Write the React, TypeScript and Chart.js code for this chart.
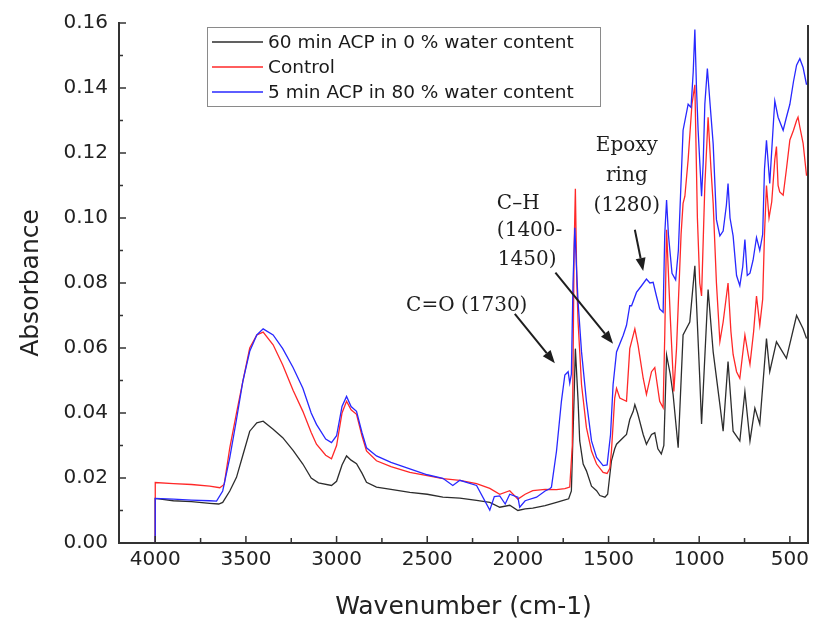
import React, { useEffect, useRef } from "react";
import { Chart, registerables } from "chart.js";

Chart.register(...registerables);

// ---- data: [wavenumber (cm-1), absorbance] ----
const acp60Water0: [number, number][] = [
  [4000, 0], [4000, 0.0137], [3900, 0.013], [3800, 0.0127], [3700, 0.0122], [3650, 0.012], [3628, 0.0125],
  [3589, 0.016], [3552, 0.0202], [3517, 0.027], [3479, 0.0344], [3440, 0.037], [3405, 0.0375], [3350, 0.035],
  [3297, 0.0324], [3240, 0.0285], [3186, 0.0243], [3140, 0.02], [3100, 0.0185], [3028, 0.0177], [3000, 0.019],
  [2970, 0.024], [2945, 0.0268], [2920, 0.0255], [2890, 0.0244], [2860, 0.0215], [2835, 0.0187], [2780, 0.0172],
  [2700, 0.0165], [2596, 0.0156], [2500, 0.015], [2414, 0.0141], [2320, 0.0138], [2228, 0.0131], [2155, 0.0125],
  [2100, 0.011], [2045, 0.0116], [2000, 0.01], [1960, 0.0105], [1918, 0.0107], [1850, 0.0115], [1787, 0.0125],
  [1750, 0.0131], [1720, 0.0136], [1705, 0.016], [1690, 0.045], [1683, 0.0598], [1668, 0.0436], [1659, 0.0314],
  [1640, 0.0243], [1622, 0.0222], [1594, 0.0175], [1566, 0.0161], [1548, 0.0146], [1520, 0.0141], [1505, 0.015],
  [1484, 0.0253], [1466, 0.029], [1456, 0.0304], [1420, 0.0324], [1401, 0.0334], [1383, 0.038], [1364, 0.0405],
  [1355, 0.0426], [1340, 0.04], [1309, 0.0334], [1291, 0.0304], [1282, 0.0314], [1263, 0.0334], [1245, 0.0339],
  [1228, 0.029], [1209, 0.0274], [1195, 0.03], [1180, 0.0578], [1160, 0.052], [1144, 0.0457], [1116, 0.0293],
  [1089, 0.064], [1052, 0.068], [1024, 0.0853], [997, 0.0507], [987, 0.0366], [951, 0.078], [923, 0.0588],
  [886, 0.0426], [868, 0.0344], [841, 0.0558], [813, 0.0344], [776, 0.0314], [748, 0.0466], [720, 0.0314],
  [693, 0.0415], [666, 0.0366], [629, 0.0629], [611, 0.0527], [574, 0.0619], [519, 0.0568], [463, 0.07],
  [427, 0.0659], [408, 0.0629],
];

const control: [number, number][] = [
  [4000, 0], [4000, 0.0186], [3900, 0.0183], [3800, 0.018], [3700, 0.0175], [3644, 0.017], [3620, 0.018],
  [3589, 0.0293], [3552, 0.04], [3517, 0.0497], [3479, 0.06], [3440, 0.064], [3405, 0.0649], [3350, 0.061],
  [3297, 0.0548], [3240, 0.047], [3186, 0.0405], [3140, 0.034], [3111, 0.0304], [3060, 0.027], [3028, 0.0259],
  [3000, 0.03], [2970, 0.04], [2945, 0.0436], [2920, 0.041], [2890, 0.0396], [2860, 0.033], [2835, 0.0283],
  [2780, 0.0253], [2700, 0.0235], [2596, 0.0217], [2500, 0.0207], [2414, 0.0198], [2320, 0.0193], [2228, 0.0183],
  [2155, 0.0168], [2100, 0.015], [2045, 0.0161], [2000, 0.0135], [1960, 0.015], [1918, 0.0161], [1850, 0.0165],
  [1787, 0.0164], [1741, 0.0167], [1714, 0.0172], [1700, 0.03], [1690, 0.09], [1683, 0.109], [1675, 0.08],
  [1668, 0.068], [1649, 0.0487], [1622, 0.0355], [1594, 0.0283], [1566, 0.0243], [1530, 0.0217], [1508, 0.0214],
  [1493, 0.023], [1484, 0.0283], [1466, 0.0446], [1456, 0.0476], [1438, 0.0446], [1401, 0.0436], [1383, 0.0598],
  [1355, 0.0659], [1337, 0.0608], [1309, 0.0507], [1291, 0.0457], [1263, 0.0527], [1245, 0.054], [1218, 0.0436],
  [1199, 0.0416], [1190, 0.0639], [1180, 0.0964], [1160, 0.07], [1140, 0.0466], [1125, 0.06], [1100, 0.095],
  [1089, 0.1045], [1079, 0.1067], [1061, 0.118], [1040, 0.135], [1024, 0.141], [1010, 0.1], [997, 0.08],
  [987, 0.076], [969, 0.11], [951, 0.131], [935, 0.115], [923, 0.1045], [905, 0.08], [886, 0.062], [868, 0.068],
  [841, 0.08], [825, 0.065], [813, 0.058], [794, 0.0527], [776, 0.0507], [748, 0.064], [730, 0.058], [720, 0.055],
  [700, 0.065], [684, 0.076], [666, 0.067], [650, 0.075], [640, 0.095], [629, 0.11], [615, 0.1], [600, 0.105],
  [583, 0.118], [574, 0.122], [565, 0.11], [556, 0.108], [537, 0.107], [519, 0.115], [500, 0.124], [480, 0.127],
  [463, 0.13], [455, 0.131], [445, 0.128], [427, 0.123], [408, 0.113],
];

const acp5Water80: [number, number][] = [
  [4000, 0], [4000, 0.0137], [3900, 0.0135], [3800, 0.0132], [3700, 0.013], [3662, 0.0129], [3628, 0.016],
  [3589, 0.0263], [3552, 0.038], [3517, 0.0497], [3479, 0.059], [3440, 0.064], [3405, 0.0659], [3350, 0.064],
  [3297, 0.0598], [3240, 0.054], [3186, 0.0476], [3140, 0.04], [3111, 0.0365], [3060, 0.032], [3028, 0.0309],
  [3000, 0.033], [2970, 0.042], [2945, 0.0451], [2920, 0.042], [2890, 0.0405], [2860, 0.034], [2835, 0.0293],
  [2780, 0.0268], [2700, 0.0248], [2596, 0.0228], [2500, 0.021], [2414, 0.0199], [2359, 0.0177], [2320, 0.0193],
  [2228, 0.0177], [2155, 0.0101], [2130, 0.0143], [2100, 0.0145], [2070, 0.012], [2045, 0.015], [2000, 0.0141],
  [1990, 0.011], [1960, 0.013], [1897, 0.0141], [1850, 0.016], [1824, 0.0167], [1815, 0.0172], [1787, 0.0283],
  [1760, 0.0436], [1741, 0.0517], [1723, 0.0527], [1714, 0.0492], [1705, 0.052], [1696, 0.08], [1686, 0.097],
  [1677, 0.085], [1668, 0.074], [1649, 0.0588], [1622, 0.0436], [1594, 0.0314], [1566, 0.0263], [1530, 0.0238],
  [1508, 0.024], [1489, 0.0334], [1475, 0.0487], [1456, 0.0588], [1419, 0.0639], [1401, 0.067], [1383, 0.073],
  [1373, 0.073], [1346, 0.0771], [1320, 0.079], [1291, 0.0812], [1272, 0.08], [1254, 0.0802], [1236, 0.076],
  [1218, 0.072], [1199, 0.071], [1190, 0.095], [1180, 0.1055], [1170, 0.095], [1150, 0.083], [1130, 0.081],
  [1115, 0.09], [1089, 0.127], [1061, 0.135], [1045, 0.134], [1033, 0.145], [1024, 0.158], [1015, 0.14],
  [1006, 0.127], [987, 0.1067], [978, 0.117], [969, 0.135], [955, 0.146], [940, 0.135], [923, 0.1228],
  [905, 0.0995], [886, 0.0945], [868, 0.096], [850, 0.104], [841, 0.1106], [830, 0.1], [813, 0.0945],
  [794, 0.0823], [776, 0.0792], [760, 0.085], [748, 0.0934], [735, 0.0823], [720, 0.083], [703, 0.087],
  [684, 0.094], [666, 0.09], [650, 0.095], [640, 0.115], [629, 0.1239], [611, 0.1106], [590, 0.13],
  [583, 0.136], [565, 0.131], [537, 0.127], [519, 0.131], [500, 0.135], [480, 0.142], [463, 0.147],
  [445, 0.149], [427, 0.1463], [408, 0.141],
];

const seriesNames = [
  "60 min ACP in 0 % water content",
  "Control",
  "5 min ACP in 80 % water content",
];
const seriesColors = ["rgb(45,45,45)", "rgb(255,40,40)", "rgb(40,40,255)"];

const xRange = [400, 4200];
const yRange = [0, 0.16];
const xTickValues = [4000, 3500, 3000, 2500, 2000, 1500, 1000, 500];
const yTickValues = [0, 0.02, 0.04, 0.06, 0.08, 0.1, 0.12, 0.14, 0.16];

// annotation labels in data units: [text, wavenumber, absorbance, align]
const annotationLabels: [string, number, number, CanvasTextAlign][] = [
  ["C=O (1730)", 2282, 0.0731, "center"],
  ["C–H", 2116, 0.1045, "left"],
  ["(1400-", 2116, 0.096, "left"],
  ["1450)", 2111, 0.0872, "left"],
  ["Epoxy", 1399, 0.1222, "center"],
  ["ring", 1399, 0.1131, "center"],
  ["(1280)", 1399, 0.1039, "center"],
];
// arrows: [fromWn, fromAbs, toWn, toAbs]
const annotationArrows: [number, number, number, number][] = [
  [2017, 0.0705, 1796, 0.0553],
  [1793, 0.0832, 1475, 0.0613],
  [1355, 0.0964, 1309, 0.0837],
];

const SANS = '"DejaVu Sans", "Liberation Sans", sans-serif';
const SERIF = '"DejaVu Serif", "Liberation Serif", serif';

function drawArrow(ctx: CanvasRenderingContext2D, x1: number, y1: number, x2: number, y2: number) {
  const ang = Math.atan2(y2 - y1, x2 - x1);
  const head = 13;
  const half = 5;
  const bx = x2 - head * Math.cos(ang);
  const by = y2 - head * Math.sin(ang);
  ctx.beginPath();
  ctx.moveTo(x1, y1);
  ctx.lineTo(bx, by);
  ctx.stroke();
  ctx.beginPath();
  ctx.moveTo(x2, y2);
  ctx.lineTo(bx + half * Math.sin(ang), by - half * Math.cos(ang));
  ctx.lineTo(bx - half * Math.sin(ang), by + half * Math.cos(ang));
  ctx.closePath();
  ctx.fill();
}

const decorPlugin = {
  id: "decor",
  afterDraw(chart: any) {
    const { ctx, chartArea, scales } = chart;
    const xs = scales.x;
    const ys = scales.y;
    const { left, right, top, bottom } = chartArea;
    ctx.save();
    // frame (left, bottom, right)
    ctx.strokeStyle = "#333";
    ctx.lineWidth = 2;
    ctx.beginPath();
    ctx.moveTo(left, top - 1);
    ctx.lineTo(left, bottom);
    ctx.lineTo(right, bottom);
    ctx.lineTo(right, top + 2);
    ctx.stroke();
    // inward ticks: majors at tick values, minors halfway between
    ctx.lineWidth = 1.5;
    ctx.beginPath();
    yTickValues.forEach((v, i) => {
      const py = ys.getPixelForValue(v);
      ctx.moveTo(left, py);
      ctx.lineTo(left + 7, py);
      if (i < yTickValues.length - 1) {
        const pm = ys.getPixelForValue((v + yTickValues[i + 1]) / 2);
        ctx.moveTo(left, pm);
        ctx.lineTo(left + 4, pm);
      }
    });
    xTickValues.forEach((w, i) => {
      const px = xs.getPixelForValue(w);
      ctx.moveTo(px, bottom);
      ctx.lineTo(px, bottom - 7);
      if (i < xTickValues.length - 1) {
        const pm = xs.getPixelForValue((w + xTickValues[i + 1]) / 2);
        ctx.moveTo(pm, bottom);
        ctx.lineTo(pm, bottom - 5);
      }
    });
    ctx.stroke();

    // legend
    const lx = 207, ly = 27, lw = 393, lh = 79;
    ctx.fillStyle = "#fff";
    ctx.fillRect(lx, ly, lw, lh);
    ctx.strokeStyle = "#8a8a8a";
    ctx.lineWidth = 1;
    ctx.strokeRect(lx + 0.5, ly + 0.5, lw, lh);
    ctx.font = `18.5px ${SANS}`;
    ctx.textBaseline = "middle";
    ctx.textAlign = "left";
    seriesNames.forEach((name, i) => {
      const ry = ly + 15 + i * 25;
      ctx.strokeStyle = seriesColors[i];
      ctx.lineWidth = 1.5;
      ctx.beginPath();
      ctx.moveTo(lx + 5, ry);
      ctx.lineTo(lx + 56, ry);
      ctx.stroke();
      ctx.fillStyle = "#1a1a1a";
      ctx.fillText(name, lx + 61, ry + 1);
    });

    // annotations
    ctx.fillStyle = "#1e1e1e";
    ctx.strokeStyle = "#1e1e1e";
    ctx.font = `20px ${SERIF}`;
    ctx.textBaseline = "middle";
    annotationLabels.forEach(([t, wn, a, align]) => {
      ctx.textAlign = align;
      ctx.fillText(t, xs.getPixelForValue(wn), ys.getPixelForValue(a));
    });
    ctx.lineWidth = 2;
    annotationArrows.forEach(([w1, a1, w2, a2]) => {
      drawArrow(ctx, xs.getPixelForValue(w1), ys.getPixelForValue(a1), xs.getPixelForValue(w2), ys.getPixelForValue(a2));
    });
    ctx.restore();
  },
};

export default function App() {
  const canvasRef = useRef<HTMLCanvasElement | null>(null);

  useEffect(() => {
    if (!canvasRef.current) return;
    const spectra = [acp60Water0, control, acp5Water80];
    const chart = new Chart(canvasRef.current, {
      type: "line",
      data: {
        datasets: spectra.map((s, i) => ({
          label: seriesNames[i],
          data: s.map(([x, y]) => ({ x, y })),
          borderColor: seriesColors[i],
          backgroundColor: seriesColors[i],
          borderWidth: 1.3,
          pointRadius: 0,
          tension: 0,
          fill: false,
          order: 2 - i,
        })),
      },
      options: {
        animation: false,
        responsive: true,
        maintainAspectRatio: false,
        layout: { padding: { left: 0, right: 11, top: 18, bottom: 0 } },
        plugins: { legend: { display: false }, tooltip: { enabled: false } },
        scales: {
          x: {
            type: "linear",
            reverse: true,
            min: xRange[0],
            max: xRange[1],
            afterBuildTicks: (s: any) => {
              s.ticks = xTickValues.map((value) => ({ value }));
            },
            afterFit: (s: any) => {
              s.height = 81;
            },
            grid: { display: false, drawTicks: false },
            border: { display: false },
            ticks: {
              autoSkip: false,
              maxRotation: 0,
              padding: 5,
              color: "#222",
              font: { family: SANS, size: 20 },
              callback: (v: any) => String(v),
            },
            title: {
              display: true,
              text: "Wavenumber (cm-1)",
              color: "#222",
              font: { family: SANS, size: 25 },
              padding: { top: 0, bottom: 2 },
            },
          },
          y: {
            min: yRange[0],
            max: yRange[1],
            afterBuildTicks: (s: any) => {
              s.ticks = yTickValues.map((value) => ({ value }));
            },
            afterFit: (s: any) => {
              s.width = 119;
            },
            grid: { display: false, drawTicks: false },
            border: { display: false },
            ticks: {
              autoSkip: false,
              padding: 11,
              color: "#222",
              font: { family: SANS, size: 20 },
              callback: (v: any) => Number(v).toFixed(2),
            },
            title: {
              display: true,
              text: "Absorbance",
              color: "#222",
              font: { family: SANS, size: 25 },
              padding: { top: 16, bottom: 0 },
            },
          },
        },
      },
      plugins: [decorPlugin],
    });
    return () => chart.destroy();
  }, []);

  return (
    <div style={{ position: "absolute", left: 0, top: 0, width: 819, height: 624, background: "#fff" }}>
      <canvas ref={canvasRef} />
    </div>
  );
}
